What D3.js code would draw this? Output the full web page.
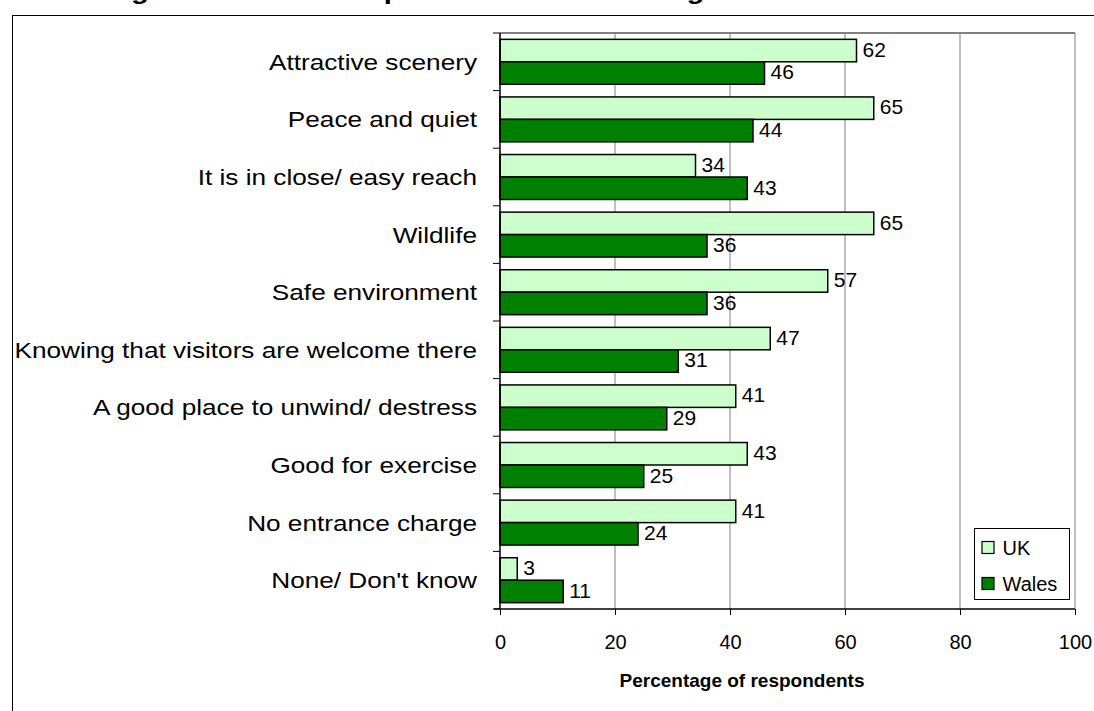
<!DOCTYPE html>
<html><head><meta charset="utf-8">
<script src="https://cdn.jsdelivr.net/npm/d3@7"></script>
<style>body{margin:0;background:#fff;}svg{display:block;font-family:Arial,"Liberation Sans",sans-serif;}</style>
</head><body>
<svg id="c" width="1094" height="711"></svg>
<script>
const categories = ["Attractive scenery","Peace and quiet","It is in close/ easy reach","Wildlife","Safe environment","Knowing that visitors are welcome there","A good place to unwind/ destress","Good for exercise","No entrance charge","None/ Don't know"];
const seriesNames = ["UK","Wales"];
const ukValues = [62,65,34,65,57,47,41,43,41,3];
const walesValues = [46,44,43,36,36,31,29,25,24,11];
const xTicks = [0,20,40,60,80,100];
const colors = {UK:"#CCFFCC", Wales:"#008000"};

const svg = d3.select("#c");
// title (cut off at top, as in the reference)
svg.append("text").attr("x",105).attr("y",-1)
  .attr("font-size",24).attr("font-weight","bold")
  .attr("textLength",870).attr("lengthAdjust","spacingAndGlyphs")
  .text("Figure 4: Factors important when choosing to visit a woodland");
// outer frame
svg.append("rect").attr("x",12.5).attr("y",15.5).attr("width",1100).attr("height",720)
  .attr("fill","none").attr("stroke","#000").attr("stroke-width",1);

const L=500, R=1075, T=33, B=609;
const x = d3.scaleLinear().domain([0,100]).range([L,R]);
const y = d3.scaleBand().domain(categories).range([T,B]).paddingInner(0.22).paddingOuter(0.11);
const sub = d3.scaleBand().domain(seriesNames).range([0,y.bandwidth()]);

// gridlines
svg.append("g").selectAll("line").data(xTicks.filter(d=>d>0)).join("line")
  .attr("x1",d=>x(d)).attr("x2",d=>x(d)).attr("y1",T).attr("y2",B)
  .attr("stroke","#808080").attr("stroke-width",1);
svg.append("line").attr("x1",L).attr("x2",R).attr("y1",T).attr("y2",T).attr("stroke","#808080").attr("stroke-width",2);

const data = categories.map((c,i)=>({c, vals:[{s:"UK",v:ukValues[i]},{s:"Wales",v:walesValues[i]}]}));
const g = svg.append("g").selectAll("g").data(data).join("g").attr("transform",d=>`translate(0,${y(d.c)})`);
g.selectAll("rect").data(d=>d.vals).join("rect")
  .attr("x",x(0)).attr("y",d=>sub(d.s)).attr("width",d=>x(d.v)-x(0)).attr("height",sub.bandwidth())
  .attr("fill",d=>colors[d.s]).attr("stroke","#000").attr("stroke-width",1.5);
g.selectAll("text").data(d=>d.vals).join("text")
  .attr("x",d=>x(d.v)+6).attr("y",d=>sub(d.s)+sub.bandwidth()/2).attr("dy","0.3em")
  .attr("font-size",21).text(d=>d.v);

// x axis
const xAxis = d3.axisBottom(x).tickValues(xTicks).tickSize(6).tickPadding(20);
const ax = svg.append("g").attr("transform",`translate(0,${B})`).call(xAxis);
ax.select(".domain").attr("stroke","#000").attr("stroke-width",1.5).attr("d",`M${L-6},0H${R}`);
ax.selectAll(".tick line").attr("stroke","#000");
ax.selectAll("text").attr("font-size",20).attr("font-family","Arial, Liberation Sans, sans-serif").attr("fill","#000");

// y axis
const yTicksPos = d3.range(categories.length+1).map(i=>T+i*(B-T)/categories.length);
svg.append("line").attr("x1",L).attr("x2",L).attr("y1",T).attr("y2",B).attr("stroke","#000").attr("stroke-width",1.5);
svg.append("g").selectAll("line").data(yTicksPos).join("line")
  .attr("x1",L-7).attr("x2",L).attr("y1",d=>d).attr("y2",d=>d).attr("stroke","#000");
svg.append("g").selectAll("text").data(categories).join("text")
  .attr("transform",d=>`translate(477,${y(d)+y.bandwidth()/2}) scale(1.19,1)`)
  .attr("dy","0.36em").attr("text-anchor","end")
  .attr("font-size",22).text(d=>d);

svg.append("text").attr("x",742).attr("y",687).attr("text-anchor","middle")
  .attr("font-size",19).attr("font-weight","bold").text("Percentage of respondents");

// legend
const lg = svg.append("g").attr("transform","translate(974.5,528.5)");
lg.append("rect").attr("width",95).attr("height",71).attr("fill","#fff").attr("stroke","#000");
seriesNames.forEach((s,i)=>{
  lg.append("rect").attr("x",7.5).attr("y",13+i*36).attr("width",12).attr("height",12)
    .attr("fill",colors[s]).attr("stroke","#000").attr("stroke-width",1.2);
  lg.append("text").attr("x",28).attr("y",19+i*36).attr("dy","0.36em").attr("font-size",20).text(s);
});
</script>
</body></html>
